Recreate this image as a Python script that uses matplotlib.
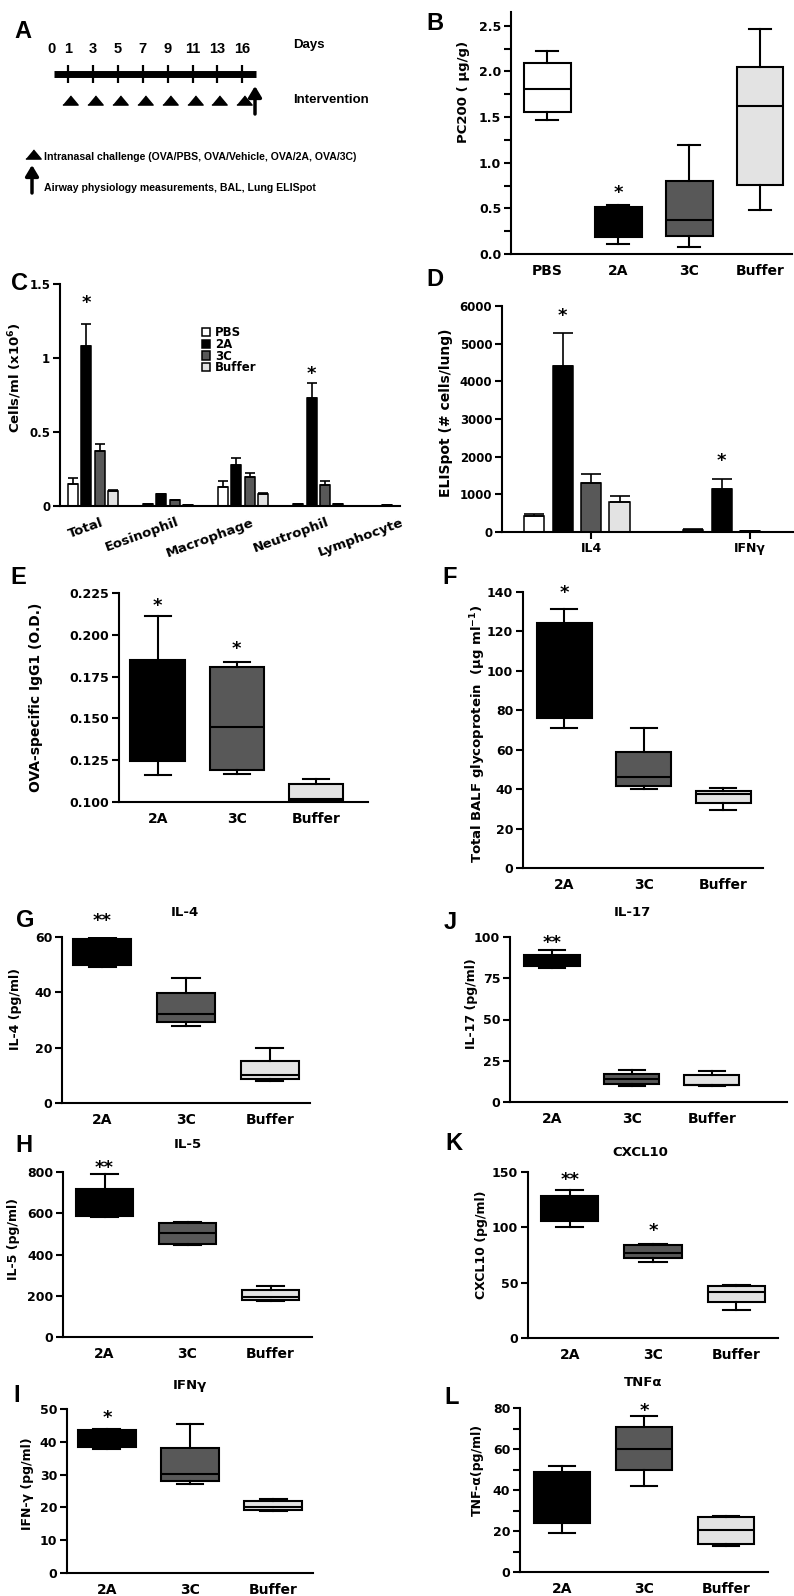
import numpy as np
import matplotlib

matplotlib.use("Agg")
import matplotlib.pyplot as plt
from matplotlib.transforms import ScaledTranslation

W, H = 794, 1596

COLORS = {"PBS": "#ffffff", "2A": "#000000", "3C": "#585858", "Buffer": "#e3e3e3"}

# A: protocol timeline
DAY_LABELS = ["0", "1", "3", "5", "7", "9", "11", "13", "16"]
CHALLENGE_DAYS = ["1", "3", "5", "7", "9", "11", "13", "16"]

# B: PC200 (ug/g), box stats
B_GROUPS = ["PBS", "2A", "3C", "Buffer"]
B_LOW = [1.47, 0.11, 0.074, 0.482]
B_Q1 = [1.555, 0.19, 0.202, 0.761]
B_MED = [1.807, 0.40, 0.368, 1.621]
B_Q3 = [2.09, 0.518, 0.794, 2.044]
B_HIGH = [2.22, 0.537, 1.199, 2.467]

# C: BAL cells (x10^6 / ml), mean and SEM
C_CELLS = ["Total", "Eosinophil", "Macrophage", "Neutrophil", "Lymphocyte"]
C_PBS = [0.152, 0.012, 0.130, 0.012, 0.003]
C_PBS_SEM = [0.038, 0.002, 0.040, 0.002, 0.0]
C_2A = [1.080, 0.078, 0.277, 0.730, 0.004]
C_2A_SEM = [0.150, 0.003, 0.050, 0.104, 0.0]
C_3C = [0.375, 0.038, 0.198, 0.145, 0.003]
C_3C_SEM = [0.043, 0.002, 0.027, 0.025, 0.0]
C_BUFFER = [0.102, 0.006, 0.084, 0.012, 0.003]
C_BUFFER_SEM = [0.003, 0.0, 0.003, 0.002, 0.0]

# D: lung ELISpot (# cells / lung), mean and SEM
D_CYTOKINES = ["IL4", "IFNγ"]
D_PBS = [420, 60]
D_PBS_SEM = [60, 10]
D_2A = [4400, 1150]
D_2A_SEM = [880, 270]
D_3C = [1310, 15]
D_3C_SEM = [220, 0]
D_BUFFER = [805, 0]
D_BUFFER_SEM = [145, 0]

GROUPS = ["2A", "3C", "Buffer"]

# E: OVA-specific IgG1 (O.D.)
E_LOW = [0.116, 0.117, 0.1005]
E_Q1 = [0.1244, 0.1194, 0.1008]
E_MED = [0.150, 0.145, 0.102]
E_Q3 = [0.185, 0.1806, 0.1106]
E_HIGH = [0.2112, 0.184, 0.114]

# F: total BALF glycoprotein (ug/ml)
F_LOW = [71, 40, 29.3]
F_Q1 = [76, 41.4, 32.8]
F_MED = [100, 46, 37.4]
F_Q3 = [124.3, 59, 38.9]
F_HIGH = [131.4, 71.2, 40.4]

# G: IL-4 (pg/ml)
G_LOW = [49.3, 27.9, 8.0]
G_Q1 = [49.9, 29.4, 8.6]
G_MED = [55, 32.1, 10.0]
G_Q3 = [59.2, 39.6, 15.2]
G_HIGH = [59.8, 45.1, 19.9]

# J: IL-17 (pg/ml)
J_LOW = [81, 9.7, 10.0]
J_Q1 = [82.4, 11.1, 10.1]
J_MED = [86, 14.2, 10.6]
J_Q3 = [89.1, 17.2, 16.2]
J_HIGH = [92.1, 19.6, 18.6]

# H: IL-5 (pg/ml)
H_LOW = [582, 444, 175]
H_Q1 = [587, 449, 178]
H_MED = [650, 504, 194]
H_Q3 = [716, 554, 226]
H_HIGH = [792, 558, 247]

# K: CXCL10 (pg/ml)
K_LOW = [100.3, 68.7, 25]
K_Q1 = [105.4, 72.3, 32.5]
K_MED = [117, 76.8, 41.6]
K_Q3 = [128, 83.7, 47]
K_HIGH = [134, 85.2, 47.9]

# I: IFN-gamma (pg/ml)
I_LOW = [37.8, 27.1, 18.8]
I_Q1 = [38.5, 28.1, 19.3]
I_MED = [41, 30.1, 20.1]
I_Q3 = [43.6, 38.2, 22.1]
I_HIGH = [43.8, 45.4, 22.6]

# L: TNF-alpha (pg/ml)
L_LOW = [19, 41.8, 12.5]
L_Q1 = [23.9, 49.9, 13.7]
L_MED = [36, 60, 20.3]
L_Q3 = [48.6, 70.7, 26.8]
L_HIGH = [51.9, 76.3, 27.2]

plt.rcParams.update({
    "font.family": "DejaVu Sans",
    "font.weight": "bold",
    "axes.labelweight": "bold",
})

fig = plt.figure(figsize=(W / 100, H / 100), dpi=100)
fig.patch.set_facecolor("white")


def px_axes(left, top, right, bottom):
    return fig.add_axes([left / W, 1 - bottom / H, (right - left) / W, (bottom - top) / H])


def fig_text(x, y, s, **kw):
    kw.setdefault("ha", "center")
    kw.setdefault("va", "center")
    fig.text(x / W, 1 - y / H, s, **kw)


def style_axis(ax, ticksize=9, catsize=10):
    for side in ("top", "right"):
        ax.spines[side].set_visible(False)
    for side in ("left", "bottom"):
        ax.spines[side].set_linewidth(1.5)
    ax.tick_params(axis="y", which="both", direction="out", length=5, width=1.5,
                   labelsize=ticksize, pad=2)
    ax.tick_params(axis="x", length=0, labelsize=catsize, pad=7)


def star(ax, x, y, s="*", size=13):
    ax.annotate(s, (x, y), xytext=(0, -0.33 * size), textcoords="offset points",
                ha="center", va="center", fontsize=size, annotation_clip=False)


def draw_boxes(ax, groups, low, q1, med, q3, high, width=0.69):
    stats = [dict(whislo=a, q1=b, med=c, q3=d, whishi=e)
             for a, b, c, d, e in zip(low, q1, med, q3, high)]
    positions = np.arange(len(groups))
    art = ax.bxp(
        stats,
        positions=positions,
        widths=width,
        capwidths=width * 0.47,
        patch_artist=True,
        showfliers=False,
        boxprops=dict(linewidth=1.5, edgecolor="black"),
        whiskerprops=dict(linewidth=1.5, color="black"),
        capprops=dict(linewidth=1.5, color="black"),
        medianprops=dict(linewidth=1.5, color="black"),
        manage_ticks=False,
    )
    for patch, group in zip(art["boxes"], groups):
        patch.set_facecolor(COLORS[group])
    ax.set_xticks(positions, groups)


# ---------------- A: schematic ----------------
axA = px_axes(0, 0, 400, 230)
axA.set_xlim(0, 400)
axA.set_ylim(230, 0)
axA.axis("off")
tick_x = 68 + 24.9 * np.arange(len(CHALLENGE_DAYS))
label_x = np.concatenate([[52], tick_x])
arial = dict(family="Liberation Sans", fontweight="bold")
axA.plot([54, 256], [74, 74], color="black", lw=5, solid_capstyle="butt")
axA.vlines(tick_x, 65, 83, color="black", lw=1.6)
for x, day in zip(label_x, DAY_LABELS):
    axA.text(x, 49, day, ha="center", va="center", fontsize=10.5, **arial)
tri = [(-1, -0.6), (1, -0.6), (0, 0.6)]
axA.plot(tick_x + 2, np.full(len(tick_x), 100), linestyle="none", marker=tri,
         ms=11, color="black")
arrow = dict(arrowstyle="-|>,head_length=0.5,head_width=0.3", lw=2.5, color="black",
             mutation_scale=13, shrinkA=0, shrinkB=0)
axA.annotate("", xy=(255, 86), xytext=(255, 114), arrowprops=arrow)
axA.text(293, 45, "Days", ha="left", va="center", fontsize=9.5, **arial)
axA.text(293, 100, "Intervention", ha="left", va="center", fontsize=9.5, **arial)
axA.plot([33], [154], linestyle="none", marker=tri, ms=11, color="black")
axA.text(44, 157, "Intranasal challenge (OVA/PBS, OVA/Vehicle, OVA/2A, OVA/3C)",
         ha="left", va="center", fontsize=7.6, **arial)
axA.annotate("", xy=(32, 165), xytext=(32, 193), arrowprops=arrow)
axA.text(44, 188, "Airway physiology measurements, BAL, Lung ELISpot",
         ha="left", va="center", fontsize=7.6, **arial)

# ---------------- B: PC200 ----------------
axB = px_axes(511, 12, 792, 254)
style_axis(axB)
draw_boxes(axB, B_GROUPS, B_LOW, B_Q1, B_MED, B_Q3, B_HIGH, width=0.66)
axB.set_xlim(-0.51, 3.45)
axB.set_ylim(0, 2.65)
axB.set_yticks(np.arange(0, 2.51, 0.5), [f"{v:.1f}" for v in np.arange(0, 2.51, 0.5)])
axB.set_yticks(np.arange(0.25, 2.6, 0.5), minor=True)
star(axB, 1, 0.73)
fig_text(463, 92, "PC200 ( μg/g)", rotation=90, fontsize=9.5)

# ---------------- C: BAL cells ----------------
axC = px_axes(60, 284, 400, 506)
style_axis(axC, ticksize=8.5)
c_means = [C_PBS, C_2A, C_3C, C_BUFFER]
c_sems = [C_PBS_SEM, C_2A_SEM, C_3C_SEM, C_BUFFER_SEM]
cx = np.arange(len(C_CELLS))
handles = []
for i, (group, vals, sem) in enumerate(zip(B_GROUPS, c_means, c_sems)):
    bars = axC.bar(cx + (i - 1.5) * 0.178, vals, 0.133, color=COLORS[group],
                   edgecolor="black", linewidth=1.1,
                   yerr=[np.zeros(len(sem)), sem],
                   error_kw=dict(ecolor="black", elinewidth=1.2, capsize=3.5, capthick=1.2),
                   label=group)
    handles.append(bars)
axC.set_xlim(-0.44, 4.09)
axC.set_ylim(0, 1.5)
axC.set_yticks([0, 0.5, 1, 1.5], ["0", "0.5", "1", "1.5"])
axC.set_xticks(cx, C_CELLS, rotation=20, ha="right", rotation_mode="anchor")
for lab in axC.get_xticklabels():
    lab.set_fontsize(9.5)
    lab.set_transform(lab.get_transform() + ScaledTranslation(0.08, 0, fig.dpi_scale_trans))
star(axC, 0 - 0.5 * 0.178, 1.41)
star(axC, 3 - 0.5 * 0.178, 0.93)
axC.legend(handles=handles, loc="upper left", bbox_to_anchor=(202 / W, 1 - 326 / H),
           bbox_transform=fig.transFigure, frameon=False, fontsize=8.5,
           handlelength=0.7, handleheight=0.7, handletextpad=0.4, labelspacing=-0.1,
           borderpad=0, borderaxespad=0)
fig_text(15, 378, "Cells/ml (x10$^{\\mathbf{6}}$)", rotation=90, fontsize=9.5)

# ---------------- D: ELISpot ----------------
axD = px_axes(502, 306, 794, 532)
style_axis(axD, ticksize=8.5)
d_means = [D_PBS, D_2A, D_3C, D_BUFFER]
d_sems = [D_PBS_SEM, D_2A_SEM, D_3C_SEM, D_BUFFER_SEM]
dx = np.arange(len(D_CYTOKINES))
for i, (group, vals, sem) in enumerate(zip(B_GROUPS, d_means, d_sems)):
    axD.bar(dx + (i - 1.5) * 0.179, vals, 0.126, color=COLORS[group],
            edgecolor="black", linewidth=1.1,
            yerr=[np.zeros(len(sem)), sem],
            error_kw=dict(ecolor="black", elinewidth=1.2, capsize=7, capthick=1.2))
axD.set_xlim(-0.47, 1.365)
axD.set_ylim(0, 6000)
axD.set_yticks(np.arange(0, 6001, 1000))
axD.set_xticks(dx + 0.09, D_CYTOKINES)
axD.tick_params(axis="x", length=5, width=1.5, labelsize=9, pad=2)
star(axD, 0 - 0.5 * 0.179, 5900)
star(axD, 1 - 0.5 * 0.179, 2040)
fig_text(446, 413, "ELISpot (# cells/lung)", rotation=90, fontsize=10)

# ---------------- E to L: cytokine box plots ----------------
box_panels = [
    dict(ax=(119, 593, 368, 802), xlim=(-0.49, 2.66), ylim=(0.1, 0.225),
         ticks=np.arange(0.100, 0.2251, 0.025), fmt="{:.3f}",
         data=(E_LOW, E_Q1, E_MED, E_Q3, E_HIGH),
         ylabel="OVA-specific IgG1 (O.D.)", ypos=(36, 697), ysize=10,
         stars=[(0, 0.221, "*"), (1, 0.195, "*")]),
    dict(ax=(523, 592, 763, 868), xlim=(-0.52, 2.5), ylim=(0, 140),
         ticks=np.arange(0, 141, 20), fmt="{:.0f}",
         data=(F_LOW, F_Q1, F_MED, F_Q3, F_HIGH),
         ylabel="Total BALF glycoprotein  (μg ml$^{\\mathbf{-1}}$)", ypos=(478, 734), ysize=9.5,
         stars=[(0, 142.5, "*")]),
    dict(ax=(62, 937, 310, 1103), xlim=(-0.48, 2.48), ylim=(0, 60),
         ticks=np.arange(0, 61, 20), fmt="{:.0f}",
         data=(G_LOW, G_Q1, G_MED, G_Q3, G_HIGH),
         ylabel="IL-4 (pg/ml)", ypos=(16, 1009), ysize=9,
         stars=[(0, 68, "**")], title=("IL-4", 185, 913)),
    dict(ax=(510, 937, 787, 1102), xlim=(-0.525, 2.94), ylim=(0, 100),
         ticks=np.arange(0, 101, 25), fmt="{:.0f}",
         data=(J_LOW, J_Q1, J_MED, J_Q3, J_HIGH),
         ylabel="IL-17 (pg/ml)", ypos=(472, 1004), ysize=9,
         stars=[(0, 100, "**")], title=("IL-17", 632, 913)),
    dict(ax=(63, 1172, 312, 1337), xlim=(-0.5, 2.5), ylim=(0, 800),
         ticks=np.arange(0, 801, 200), fmt="{:.0f}",
         data=(H_LOW, H_Q1, H_MED, H_Q3, H_HIGH),
         ylabel="IL-5 (pg/ml)", ypos=(14, 1239), ysize=9,
         stars=[(0, 848, "**")], title=("IL-5", 188, 1145)),
    dict(ax=(528, 1172, 778, 1338), xlim=(-0.5, 2.5), ylim=(0, 150),
         ticks=np.arange(0, 151, 50), fmt="{:.0f}",
         data=(K_LOW, K_Q1, K_MED, K_Q3, K_HIGH),
         ylabel="CXCL10 (pg/ml)", ypos=(482, 1245), ysize=9,
         stars=[(0, 148, "**"), (1, 102, "*")], title=("CXCL10", 640, 1153)),
    dict(ax=(67, 1409, 313, 1573), xlim=(-0.48, 2.48), ylim=(0, 50),
         ticks=np.arange(0, 51, 10), fmt="{:.0f}",
         data=(I_LOW, I_Q1, I_MED, I_Q3, I_HIGH),
         ylabel="IFN-γ (pg/ml)", ypos=(28, 1484), ysize=9,
         stars=[(0, 49, "*")], title=("IFNγ", 190, 1385)),
    dict(ax=(520, 1408, 768, 1572), xlim=(-0.51, 2.51), ylim=(0, 80),
         ticks=np.arange(0, 81, 20), fmt="{:.0f}", minor=np.arange(10, 80, 20),
         data=(L_LOW, L_Q1, L_MED, L_Q3, L_HIGH),
         ylabel="TNF-α(pg/ml)", ypos=(477, 1470), ysize=9,
         stars=[(1, 81.5, "*")], title=("TNFα", 643, 1383)),
]

for spec in box_panels:
    ax = px_axes(*spec["ax"])
    style_axis(ax)
    draw_boxes(ax, GROUPS, *spec["data"])
    ax.set_xlim(*spec["xlim"])
    ax.set_ylim(*spec["ylim"])
    ax.set_yticks(spec["ticks"], [spec["fmt"].format(v) for v in spec["ticks"]])
    if "minor" in spec:
        ax.set_yticks(spec["minor"], minor=True)
    for x, y, s in spec["stars"]:
        star(ax, x, y, s)
    fig_text(*spec["ypos"], spec["ylabel"], rotation=90, fontsize=spec["ysize"])
    if "title" in spec:
        title, tx, ty = spec["title"]
        fig_text(tx, ty, title, fontsize=9.5)

# panel letters
for letter, x, y in [("A", 23, 32), ("B", 435, 23), ("C", 19, 284), ("D", 435, 280),
                     ("E", 18, 578), ("F", 450, 578), ("G", 25, 921), ("J", 450, 922),
                     ("H", 24, 1145), ("K", 454, 1144), ("I", 17, 1395), ("L", 452, 1398)]:
    fig_text(x, y, letter, fontsize=17, family="Liberation Sans", fontweight="bold")

fig.savefig("out.png", dpi=100)
